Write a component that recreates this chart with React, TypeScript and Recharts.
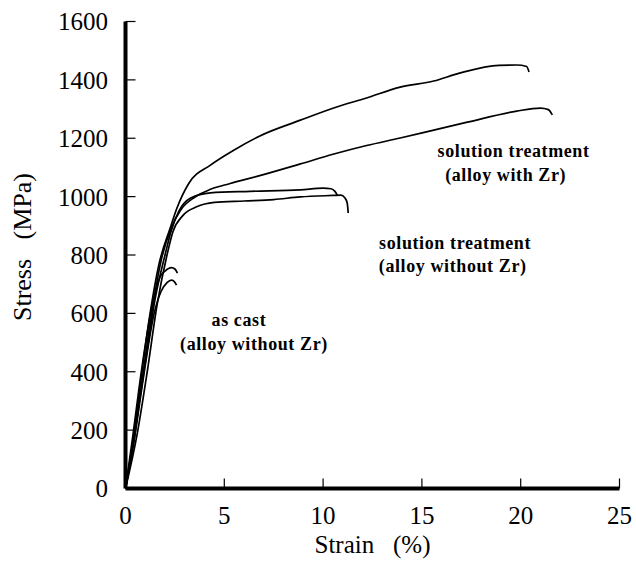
import React from 'react';
import {
  LineChart,
  Line,
  XAxis,
  YAxis,
  ReferenceDot,
  Label,
} from 'recharts';

// strain (%) ticks and stress (MPa) ticks
const strainTicks = [0, 5, 10, 15, 20, 25];
const stressTicks = [0, 200, 400, 600, 800, 1000, 1200, 1400, 1600];

// solution treatment, alloy with Zr (two specimens)
const zrUpperStrain = [0, 0.3, 0.7, 1.2, 1.7, 2.25, 2.6, 3.2, 4.3, 5.5, 6.8, 8.85, 10.5, 12.2, 13.9, 15.6, 16.9, 18.9, 19.8, 20.3, 20.42];
const zrUpperStress = [0, 120, 330, 580, 770, 890, 960, 1045, 1108, 1160, 1208, 1262, 1303, 1338, 1375, 1396, 1423, 1450, 1451, 1446, 1427];

const zrLowerStrain = [0, 0.4, 0.8, 1.3, 1.8, 2.3, 2.8, 3.5, 4.3, 5.3, 6.7, 8.85, 10.5, 12.2, 13.9, 15.6, 17.3, 19.8, 21.0, 21.4, 21.6];
const zrLowerStress = [0, 150, 350, 590, 780, 890, 955, 998, 1025, 1045, 1070, 1112, 1145, 1175, 1201, 1228, 1255, 1293, 1303, 1298, 1280];

// solution treatment, alloy without Zr (two specimens)
const noZrAStrain = [0, 0.5, 1.0, 1.5, 2.0, 2.3, 2.7, 3.3, 4.3, 6.3, 8.85, 10.0, 10.4, 10.6, 10.72];
const noZrAStress = [0, 210, 430, 650, 800, 880, 950, 995, 1013, 1018, 1023, 1029, 1027, 1018, 1005];

const noZrBStrain = [0, 0.6, 1.1, 1.6, 2.1, 2.4, 2.9, 3.6, 4.5, 6.0, 7.5, 8.85, 10.5, 10.9, 11.1, 11.22, 11.27];
const noZrBStress = [0, 190, 400, 630, 800, 880, 935, 965, 980, 985, 990, 999, 1004, 1005, 996, 978, 944];

// as cast, alloy without Zr (two specimens)
const castAStrain = [0, 0.35, 0.8, 1.3, 1.75, 2.0, 2.33, 2.5, 2.63];
const castAStress = [0, 170, 400, 610, 725, 745, 757, 752, 738];

const castBStrain = [0, 0.45, 0.95, 1.45, 1.8, 2.1, 2.33, 2.48, 2.58];
const castBStress = [0, 170, 400, 600, 675, 705, 714, 708, 697];

const curves = [
  [zrUpperStrain, zrUpperStress],
  [zrLowerStrain, zrLowerStress],
  [noZrAStrain, noZrAStress],
  [noZrBStrain, noZrBStress],
  [castAStrain, castAStress],
  [castBStrain, castBStress],
].map(([xs, ys]) => xs.map((x, i) => ({ x, y: ys[i] })));

// text annotations anchored in data coordinates
const annotations = [
  { text: 'solution treatment', x: 19.64, y: 1156 },
  { text: '(alloy with Zr)', x: 19.24, y: 1074 },
  { text: 'solution treatment', x: 16.68, y: 844 },
  { text: '(alloy without Zr)', x: 16.56, y: 762 },
  { text: 'as cast', x: 5.74, y: 577 },
  { text: '(alloy without Zr)', x: 6.5, y: 495 },
];

const serif = '"Times New Roman", "Liberation Serif", "DejaVu Serif", serif';
const tickStyle = { fill: '#000', fontSize: 25, fontFamily: serif };

const XTitle = (props: any) => {
  const { viewBox } = props;
  const cx = viewBox.x + viewBox.width / 2;
  return (
    <text x={cx} y={viewBox.y + 56} textAnchor="middle" dominantBaseline="central"
      fill="#000" fontSize={25} fontFamily={serif} style={{ whiteSpace: 'pre' }}>
      {'Strain   (%)'}
    </text>
  );
};

const YTitle = (props: any) => {
  const { viewBox } = props;
  const cx = 22;
  const cy = viewBox.y + viewBox.height / 2 - 8;
  return (
    <text x={cx} y={cy} transform={`rotate(-90 ${cx} ${cy})`} textAnchor="middle" dominantBaseline="central"
      fill="#000" fontSize={26} fontFamily={serif} style={{ whiteSpace: 'pre' }}>
      {'Stress   (MPa)'}
    </text>
  );
};

export default function App() {
  return (
    <div style={{ position: 'absolute', left: 0, top: 0, background: '#fff', fontFamily: serif }}>
      <LineChart width={636} height={578} margin={{ top: 21.5, right: 16.5, bottom: 0, left: 0 }}>
        <XAxis
          type="number"
          dataKey="x"
          domain={[0, 25]}
          ticks={strainTicks}
          allowDataOverflow
          height={89.5}
          tickSize={-10}
          tickMargin={27.5}
          tick={tickStyle}
          tickLine={{ stroke: '#000', strokeWidth: 1.2 }}
          axisLine={{ stroke: '#000', strokeWidth: 4 }}
        >
          <Label content={XTitle} />
        </XAxis>
        <XAxis
          xAxisId="top"
          orientation="top"
          type="number"
          domain={[0, 25]}
          height={0}
          tick={false}
          tickLine={false}
          axisLine={{ stroke: '#000', strokeWidth: 4 }}
        />
        <YAxis
          type="number"
          domain={[0, 1600]}
          ticks={stressTicks}
          width={125.5}
          tickSize={-10}
          tickMargin={27.5}
          tick={tickStyle}
          tickLine={{ stroke: '#000', strokeWidth: 1.2 }}
          axisLine={{ stroke: '#000', strokeWidth: 4 }}
        >
          <Label content={YTitle} />
        </YAxis>
        <YAxis
          yAxisId="right"
          orientation="right"
          type="number"
          domain={[0, 1600]}
          width={0}
          tick={false}
          tickLine={false}
          axisLine={{ stroke: '#000', strokeWidth: 4 }}
        />
        {curves.map((data, i) => (
          <Line
            key={i}
            data={data}
            dataKey="y"
            type="monotone"
            stroke="#000"
            strokeWidth={1.7}
            dot={false}
            activeDot={false}
            isAnimationActive={false}
          />
        ))}
        {annotations.map((a, i) => (
          <ReferenceDot key={i} x={a.x} y={a.y} r={0} stroke="none" fill="none">
            <Label
              value={a.text}
              position="center"
              fill="#000"
              fontSize={18}
              fontWeight="bold"
              fontFamily={serif}
              letterSpacing={0.6}
            />
          </ReferenceDot>
        ))}
      </LineChart>
    </div>
  );
}
